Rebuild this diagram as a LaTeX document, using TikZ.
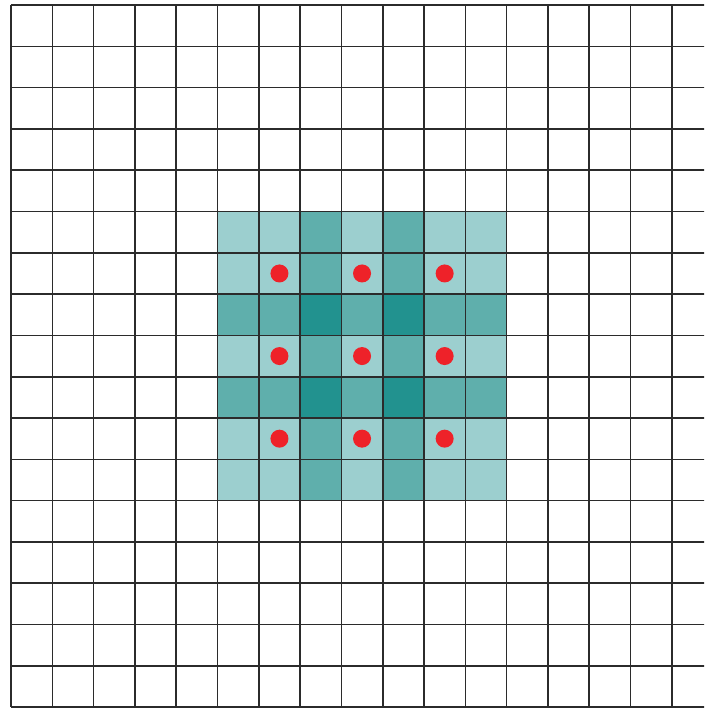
\documentclass[tikz,border=0pt]{standalone}
\definecolor{tlight}{HTML}{9CCFCF}
\definecolor{tmid}{HTML}{5FAFAC}
\definecolor{tdark}{HTML}{22928F}
\definecolor{dotred}{HTML}{EE2229}
\definecolor{gridline}{HTML}{2B2B2B}
\begin{document}
\begin{tikzpicture}[x=1cm,y=-1cm,
  gridstyle/.style={draw=gridline,line width=1.1pt},
  dotstyle/.style={fill=dotred}]
\useasboundingbox (-0.2663,-0.1211) rectangle (16.780,17.070);
\clip (-0.2663,-0.1211) rectangle (16.780,17.070);
\fill[white] (-0.2663,-0.1211) rectangle (16.780,17.070);
% teal cells
\foreach \i in {0,...,6}{
  \foreach \j in {0,...,6}{
    \pgfmathtruncatemacro{\ci}{(\i==2||\i==4)?1:0}
    \pgfmathtruncatemacro{\cj}{(\j==2||\j==4)?1:0}
    \pgfmathtruncatemacro{\lev}{\ci+\cj}
    \ifcase\lev
      \def\cc{tlight}\or\def\cc{tmid}\or\def\cc{tdark}\fi
    \fill[\cc] ({5+\i},{5+\j}) rectangle ({6+\i},{6+\j});
  }
}
% grid
\foreach \k in {0,...,16}{
  \draw[gridstyle] (\k,0) -- (\k,17);
}
\foreach \k in {0,...,17}{
  \draw[gridstyle] (0,\k) -- (17,\k);
}
% dots
\foreach \i in {1,3,5}{
  \foreach \j in {1,3,5}{
    \fill[dotstyle] ({5.5+\i},{5.5+\j}) circle (0.218);
  }
}
\end{tikzpicture}
\end{document}
